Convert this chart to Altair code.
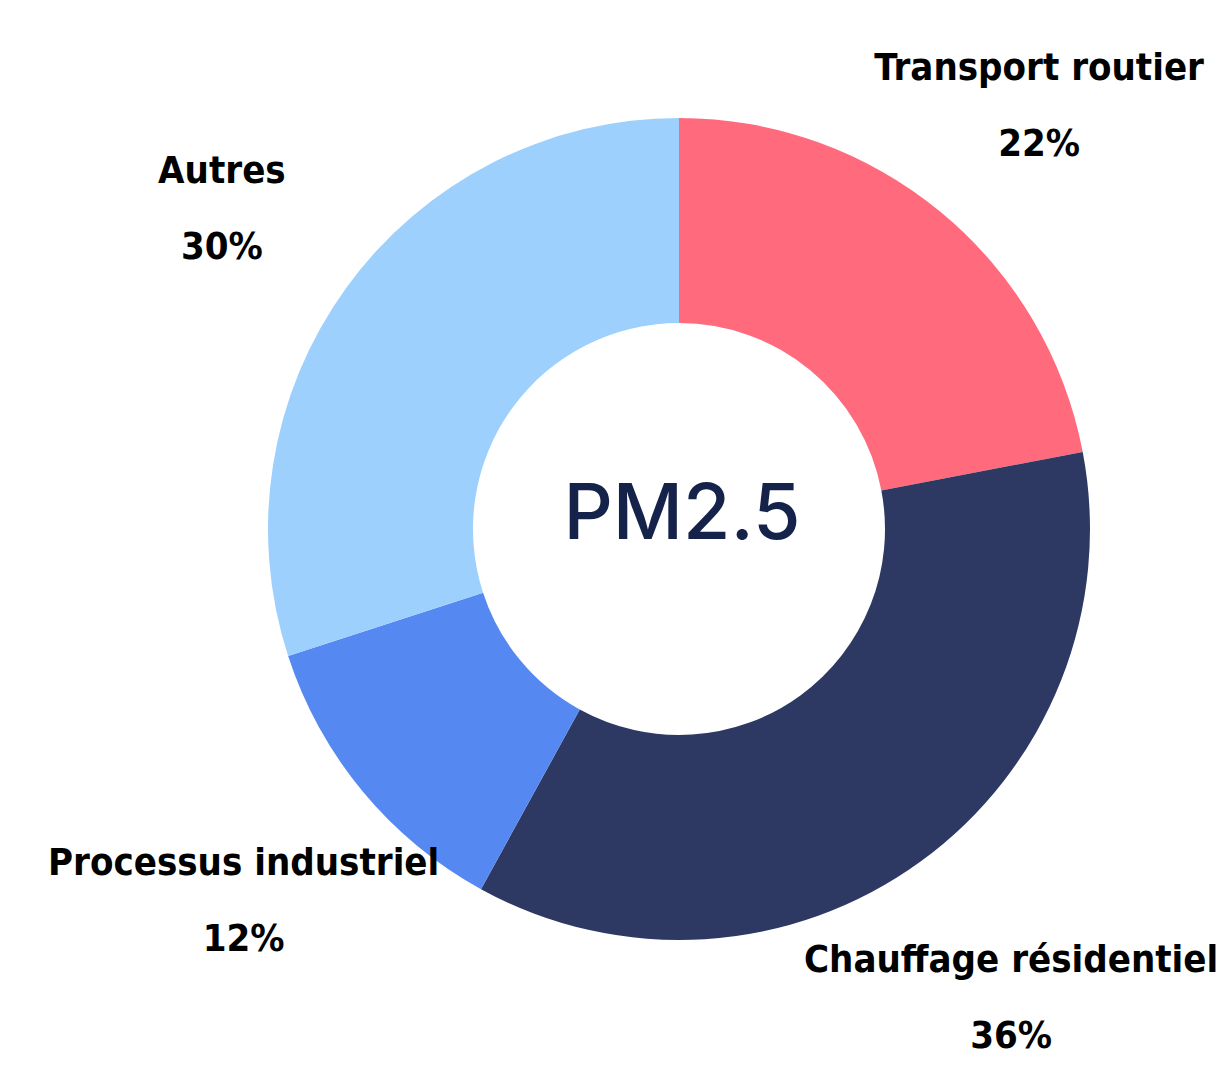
import altair as alt
import pandas as pd

categories = ["Transport routier", "Chauffage résidentiel", "Processus industriel", "Autres"]
values = [22, 36, 12, 30]
colors = ["#FF6A7C", "#2D3963", "#5589F1", "#9ED0FE"]
center_label = "PM2.5"

df = pd.DataFrame({
    "categorie": categories,
    "valeur": values,
    "idx": list(range(len(categories))),
})
df["pct"] = df["valeur"].astype(str) + "%"

cx, cy = 671, 521
label_font = "Liberation Sans Narrow, DejaVu Sans Condensed, sans-serif"

base = alt.Chart(df).encode(
    theta=alt.Theta("valeur:Q", stack=True),
    order=alt.Order("idx:Q"),
    x=alt.value(cx),
    y=alt.value(cy),
)

arcs = base.mark_arc(outerRadius=411, innerRadius=206, stroke=None).encode(
    color=alt.Color(
        "categorie:N",
        scale=alt.Scale(domain=categories, range=colors),
        legend=None,
    )
)

names = base.mark_text(
    radius=565,
    dy=-25,
    font=label_font,
    fontWeight="bold",
    fontSize=38,
    align="center",
    baseline="middle",
    color="#000000",
).encode(text="categorie:N")

pcts = base.mark_text(
    radius=565,
    dy=51,
    font=label_font,
    fontWeight="bold",
    fontSize=38,
    align="center",
    baseline="middle",
    color="#000000",
).encode(text="pct:N")

center = alt.Chart(pd.DataFrame({"t": [center_label]})).mark_text(
    font="Inter, Roboto, sans-serif",
    fontSize=77,
    fontWeight=500,
    color="#15234A",
    align="center",
    baseline="middle",
).encode(text="t:N", x=alt.value(cx + 3), y=alt.value(cy - 13))

chart = alt.layer(arcs, names, pcts, center).properties(
    width=1215,
    height=1060,
    autosize=alt.AutoSizeParams(type="none"),
    padding=0,
).configure_view(stroke=None)

chart.save("out.html", embed_options={"renderer": "svg", "actions": False})
